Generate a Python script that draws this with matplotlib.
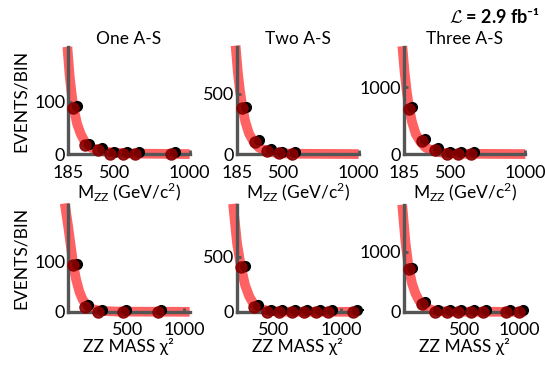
import numpy as np
import matplotlib
matplotlib.use("Agg")
import matplotlib.pyplot as plt
import matplotlib.transforms as mtransforms

plt.rcParams['font.family'] = ['Lato', 'DejaVu Sans']
plt.rcParams['mathtext.fontset'] = 'custom'
plt.rcParams['mathtext.rm'] = 'Lato'
plt.rcParams['mathtext.bf'] = 'Lato:bold'

titles = ["One A-S", "Two A-S", "Three A-S"]

# measured points (x, events/bin)
top_x = [[219, 300, 387, 468, 555, 636, 878],
         [219, 307, 389, 463, 552],
         [218, 305, 392, 472, 545, 632]]
top_y = [[88, 17, 8, 0, 0, 0, 0],
         [381, 102, 25, 5, 0],
         [677, 200, 60, 0, 0, 0]]
bot_x = [[14, 120, 236, 457, 767],
         [260, 357, 455, 537, 635, 725, 815, 905, 1092],
         [-10, 108, 227, 336, 437, 555, 664, 882, 1000]]
bot_y = [[92, 10, 0, 0, 0],
         [405, 47, 0, 0, 0, 0, 0, 0, 0],
         [707, 138, 0, 0, 0, 0, 0, 0, 0]]

# fitted curves
top_cx = [[180, 195, 210, 225, 245, 270, 300, 340, 400, 480, 600, 1000],
          [175, 190, 205, 220, 240, 265, 295, 330, 380, 450, 550, 1000],
          [175, 190, 205, 220, 240, 265, 295, 330, 380, 450, 550, 1000]]
top_cy = [[205, 150, 112, 84, 58, 38, 22, 12, 6, 3, 1, 0],
          [900, 680, 520, 395, 270, 170, 105, 55, 25, 10, 3, 0],
          [1620, 1230, 930, 700, 480, 300, 190, 100, 45, 18, 5, 0]]
bot_cx = [[-60, -30, 0, 15, 40, 70, 100, 140, 190, 260, 400, 1050],
          [200, 230, 260, 290, 320, 357, 400, 450, 520, 600, 1130],
          [-70, -40, -10, 20, 50, 80, 110, 150, 200, 280, 400, 1055]]
bot_cy = [[215, 170, 120, 95, 65, 40, 24, 12, 5, 2, 0.5, 0],
          [980, 620, 400, 240, 140, 62, 28, 12, 4, 1, 0],
          [1780, 1150, 720, 470, 310, 200, 130, 70, 30, 10, 2, 0]]

top_xlim = [(185, 1000)] * 3
top_ylim = [(0, 205), (0, 890), (0, 1610)]
top_yticks = [[0, 100], [0, 500], [0, 1000]]
top_xticks = [185, 500, 1000]
bot_xlim = [(-30, 1050), (230, 1130), (-55, 1055)]
bot_ylim = [(0, 212), (0, 970), (0, 1775)]
bot_yticks = [[0, 100], [0, 500], [0, 1000]]
bot_xticks = [500, 1000]

fig = plt.figure(figsize=(5.45, 3.66), dpi=100)
lefts = [0.125, 0.435, 0.741]
width = 0.223
spine_c = '#555555'


def panel(ax, px, py, cx, cy, xlim, ylim, xt, yt, xerr):
    ax.plot(cx, cy, color='#ff3b3b', alpha=0.8, lw=7, solid_capstyle='butt',
            clip_on=False, zorder=1)
    off = mtransforms.offset_copy(ax.transData, fig=fig, x=2.5, y=1.2, units='points')
    ax.errorbar(px, py, xerr=[[0] * len(px), [xerr] * len(px)], fmt='o',
                color='black', ms=7, elinewidth=1.5, capsize=0,
                transform=off, clip_on=False, zorder=3)
    ax.plot(px, py, 'o', color='#8b0000', ms=8, alpha=0.9, clip_on=False, zorder=4)
    ax.set_xlim(xlim)
    ax.set_ylim(ylim)
    ax.set_xticks(xt)
    ax.set_yticks(yt)
    for s in ['top', 'right']:
        ax.spines[s].set_visible(False)
    for s in ['left', 'bottom']:
        ax.spines[s].set_color(spine_c)
        ax.spines[s].set_linewidth(2.4)
    ax.tick_params(direction='in', length=3, width=2, color=spine_c,
                   labelsize=13, pad=2)
    ax.tick_params(axis='x', pad=7.5)


for i in range(3):
    ax = fig.add_axes([lefts[i], 0.579, width, 0.293])
    panel(ax, top_x[i], top_y[i], top_cx[i], top_cy[i], top_xlim[i], top_ylim[i],
          top_xticks, top_yticks[i], 40)
    ax.set_title(titles[i], fontsize=12.5, pad=-1)
    ax.set_xlabel(r'M$_{\mathrm{ZZ}}$ (GeV/c$^{\mathrm{2}}$)', fontsize=12.5, labelpad=0)
    if i == 0:
        ax.set_ylabel('EVENTS/BIN', fontsize=12.5, labelpad=4)

    ax = fig.add_axes([lefts[i], 0.148, width, 0.292])
    panel(ax, bot_x[i], bot_y[i], bot_cx[i], bot_cy[i], bot_xlim[i], bot_ylim[i],
          bot_xticks, bot_yticks[i], 50)
    ax.set_xlabel('ZZ MASS \u03c7\u00b2', fontsize=12.5, labelpad=0)
    if i == 0:
        ax.set_ylabel('EVENTS/BIN', fontsize=12.5, labelpad=4)

fig.text(0.99, 0.955, r'$\mathcal{L}$ = 2.9 fb' + '\u207b\u00b9', ha='right', va='center',
         fontsize=13, fontweight='bold', math_fontfamily='cm')

fig.savefig('out.png', dpi=100)
